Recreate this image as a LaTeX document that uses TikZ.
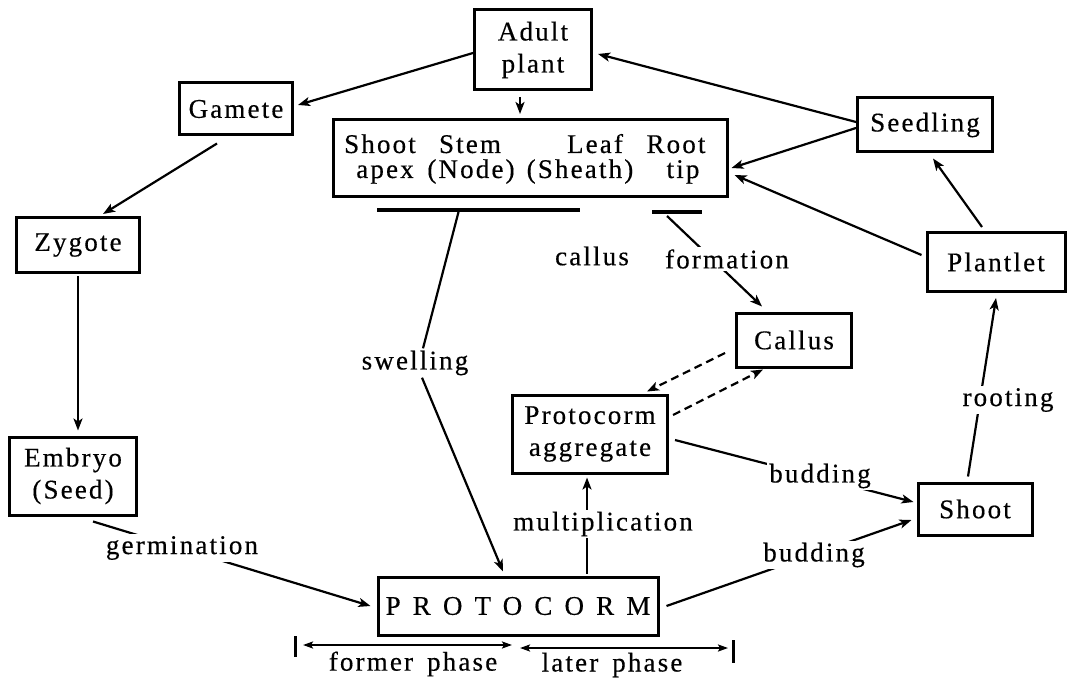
\documentclass[tikz,border=0pt]{standalone}
\usepackage{fontspec}
\setmainfont{Liberation Serif}[LetterSpace=8,FakeBold=0.4]
\newfontfamily\widefont{Liberation Serif}[LetterSpace=45,FakeBold=0.4]
\usetikzlibrary{arrows.meta}
\begin{document}
\begin{tikzpicture}[x=0.5pt,y=-0.5pt,
  txt/.style={font=\fontsize{13.5}{16}\selectfont},
  box/.style={draw,line width=1.5pt,inner sep=0pt,align=center,txt},
  lbl/.style={txt,inner sep=1pt,fill=white},
  word/.style={txt,inner sep=0pt,anchor=base},
  bar/.style={fill=black,inner sep=0pt,minimum height=1.6pt},
  conn/.style={line width=1.1pt,-{Stealth[length=6pt,width=4.5pt,inset=1.5pt]}},
  plain/.style={line width=1.1pt},
  dconn/.style={conn,dash pattern=on 4pt off 2.5pt},
  phase/.style={line width=1.1pt,{Stealth[length=5pt,width=3.5pt,inset=1pt]}-{Stealth[length=5pt,width=3.5pt,inset=1pt]}},
  tick/.style={line width=1.5pt}]
\useasboundingbox (0,0) rectangle (1068,678);

% boxes
\node[box,minimum width=58.5pt,minimum height=40pt] (adult) at (533,50) {Adult\\plant};
\node[box,minimum width=56.5pt,minimum height=26pt] (gamete) at (236,109) {Gamete};
\node[box,minimum width=197pt,minimum height=38.5pt] (organs) at (530,158) {};
\node[box,minimum width=67.5pt,minimum height=27pt] (seedling) at (925,125) {Seedling};
\node[box,minimum width=61.5pt,minimum height=27.5pt] (zygote) at (78,245) {Zygote};
\node[box,minimum width=69pt,minimum height=29.5pt] (plantlet) at (996,262) {Plantlet};
\node[box,minimum width=57.5pt,minimum height=27pt] (callus) at (794,340) {Callus};
\node[box,minimum width=77.5pt,minimum height=39pt] (aggregate) at (590,434) {Protocorm\\aggregate};
\node[box,minimum width=63.5pt,minimum height=39pt] (embryo) at (73,476) {Embryo\\(Seed)};
\node[box,minimum width=57pt,minimum height=26pt] (shoot) at (975,509) {Shoot};
\node[box,minimum width=140pt,minimum height=29pt] (protocorm) at (518,606) {\widefont PROTOCORM};

% words inside the organ box
\node[word] (w1) at (380,153) {Shoot};
\node[word] (w2) at (385,178) {apex};
\node[word] (w3) at (470,153) {Stem};
\node[word] (w4) at (471,178) {(Node)};
\node[word] (w5) at (595,153) {Leaf};
\node[word] (w6) at (580,178) {(Sheath)};
\node[word] (w7) at (676,153) {Root};
\node[word] (w8) at (683,178) {tip};

% underline bars
\node[bar,minimum width=101.5pt] (barA) at (478.5,210) {};
\node[bar,minimum width=25pt] (barB) at (677,212) {};

% labels (placed first so connectors can use their anchors)
\node[lbl] (swell) at (415,363) {swelling};
\node[lbl] (germ) at (182,548) {germination};
\node[lbl] (mult) at (603,524) {multiplication};
\node[lbl] (bud1) at (820,476) {budding};
\node[lbl] (bud2) at (814,555) {budding};
\node[lbl] (root) at (1008,400) {rooting};
\node[txt,inner sep=1pt] (cal) at (592,256) {callus};

% connectors
\draw[conn] ([yshift=-1.5pt]adult.west) -- ([xshift=2pt,yshift=2pt]gamete.east);
\draw[conn,shorten <=3pt,shorten >=2pt] ([xshift=-6.5pt]adult.south) -- ([xshift=-5pt]organs.north);
\draw[conn] ([yshift=1.5pt]seedling.west) -- ([xshift=2.5pt,yshift=-2pt]adult.east);
\draw[conn] ([yshift=-1.5pt]seedling.west) -- ([xshift=1.5pt,yshift=-5pt]organs.east);
\draw[conn] ([xshift=-2pt,yshift=3.5pt]plantlet.west) -- ([xshift=3pt,yshift=-8.5pt]organs.east);
\draw[conn] ([xshift=-7pt,yshift=2pt]plantlet.north) -- ([xshift=4pt,yshift=-2.5pt]seedling.south);
\draw[conn] ([xshift=-3.5pt,yshift=2.5pt]shoot.north) -- ([yshift=-2.5pt]plantlet.south);
\draw[conn] ([xshift=-9.5pt,yshift=-3.5pt]gamete.south) -- ([xshift=12.5pt,yshift=1pt]zygote.north);
\draw[conn] ([yshift=-1pt]zygote.south) -- ([xshift=2.5pt,yshift=2.5pt]embryo.north);
\draw[conn] ([xshift=10pt,yshift=-2.5pt]embryo.south) -- ([xshift=-3pt]protocorm.west);
\draw[plain] ([xshift=-10pt]barA.south) -- ([xshift=4pt]swell.north);
\draw[conn] ([xshift=3.5pt]swell.south) -- ([xshift=-7.5pt,yshift=2pt]protocorm.north);
\draw[conn] ([xshift=34.5pt,yshift=1pt]protocorm.north) -- ([xshift=-1.5pt,yshift=-1.5pt]aggregate.south);
\draw[conn] ([xshift=-5pt,yshift=-1pt]barB.south) -- ([xshift=-16pt,yshift=2.5pt]callus.north);
\draw[dconn] ([xshift=-5pt,yshift=-6.5pt]callus.west) -- ([xshift=28.5pt,yshift=1pt]aggregate.north);
\draw[dconn] ([xshift=2pt,yshift=9.5pt]aggregate.east) -- ([xshift=-15.5pt,yshift=-0.5pt]callus.south);
\draw[conn] ([xshift=3pt,yshift=-3pt]aggregate.east) -- ([xshift=-1.5pt,yshift=3.5pt]shoot.west);
\draw[conn] ([xshift=3.5pt]protocorm.east) -- ([xshift=-2.5pt,yshift=-5.5pt]shoot.west);

% labels redrawn on top of lines
\node[lbl] at (swell) {swelling};
\node[lbl] at (germ) {germination};
\node[lbl] at (mult) {multiplication};
\node[lbl] at (bud1) {budding};
\node[lbl] at (bud2) {budding};
\node[lbl] at (root) {rooting};
\node[lbl] (form) at (727,259) {formation};

% phase markers
\coordinate (tl1) at (295,636);
\coordinate (tl2) at (295,657);
\coordinate (tr1) at (733,640);
\coordinate (tr2) at (733,663);
\coordinate (a1) at (303,645);
\coordinate (a2) at (512,645);
\coordinate (b1) at (520,648);
\coordinate (b2) at (728,648);
\draw[tick] (tl1) -- (tl2);
\draw[tick] (tr1) -- (tr2);
\draw[phase] (a1) -- (a2);
\draw[phase] (b1) -- (b2);
\node[txt,inner sep=0pt] (former) at (413,664) {former\hspace{7pt}phase};
\node[txt,inner sep=0pt] (later) at (612,665) {later\hspace{7pt}phase};
\end{tikzpicture}
\end{document}
